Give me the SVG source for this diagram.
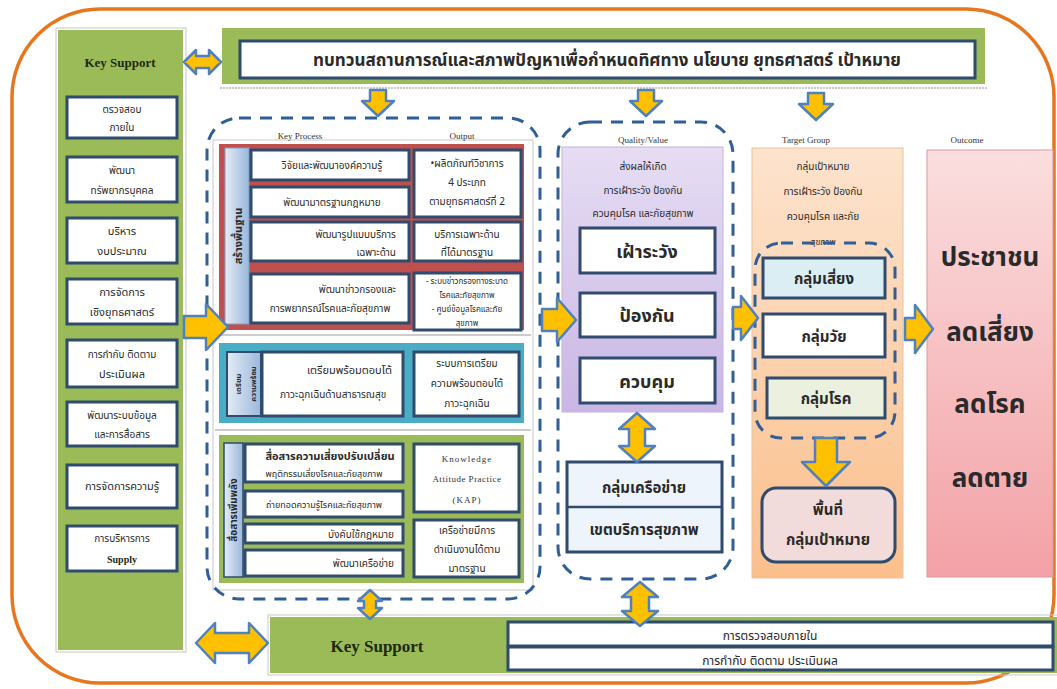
<svg xmlns="http://www.w3.org/2000/svg" width="1057" height="689" viewBox="0 0 1057 689">
  <defs>
    <linearGradient id="gPurple" x1="0" y1="0" x2="0" y2="1">
      <stop offset="0" stop-color="#e6ddf3"/>
      <stop offset="1" stop-color="#c9b6e5"/>
    </linearGradient>
    <linearGradient id="gPeach" x1="0" y1="0" x2="0" y2="1">
      <stop offset="0" stop-color="#fde3cd"/>
      <stop offset="1" stop-color="#fbbf8c"/>
    </linearGradient>
    <linearGradient id="gPink" x1="0" y1="0" x2="0" y2="1">
      <stop offset="0" stop-color="#fbdede"/>
      <stop offset="1" stop-color="#f3a1a6"/>
    </linearGradient>
    <linearGradient id="gLabel" x1="0" y1="0" x2="1" y2="0">
      <stop offset="0" stop-color="#e4ecf6"/>
      <stop offset="1" stop-color="#9bb7da"/>
    </linearGradient>
    <style>
      .th { font-family: "Noto Sans Thai", "Noto Serif Thai", "Garuda", "Loma", "Norasi", "DejaVu Sans", sans-serif; fill: #2a2a2a; text-anchor: middle; }
      .th.end { text-anchor: end; }
      .en { font-family: "Liberation Serif", serif; fill: #1e2a10; text-anchor: middle; font-weight: bold; }
      .en.plain { fill: #333333; font-weight: normal; }
      .wbox { fill: #ffffff; stroke: #2f4b6e; stroke-width: 3; }
      .arw { fill: #ffc000; stroke: #4f81bd; stroke-width: 2.5; stroke-linejoin: round; }
      .dash { fill: none; stroke: #2f5f96; stroke-width: 3; stroke-dasharray: 12 9; }
      .shadow { fill: none; stroke: #c8c8c8; stroke-width: 1; }
      .s10 { font-size: 10px; }
      .s11 { font-size: 11px; }
      .s12 { font-size: 12px; }
      .b { font-weight: bold; }
    </style>
  </defs>

  <rect width="1057" height="689" fill="#ffffff"/>

  <!-- outer frame -->
  <rect x="12" y="9" width="1042" height="674" rx="88" fill="none" stroke="#e8761e" stroke-width="3.5"/>

  <!-- left key support column -->
  <g id="key-support-left">
    <rect x="56" y="28" width="130" height="624" class="shadow"/>
    <rect x="58" y="30" width="125" height="620" fill="#9bbb59"/>
    <text x="120" y="67" class="en" font-size="13">Key Support</text>
    <rect x="67" y="97" width="110" height="41" class="wbox"/>
    <text x="122" y="113" class="th s10">ตรวจสอบ</text>
    <text x="122" y="131" class="th s10">ภายใน</text>
    <rect x="67" y="157" width="110" height="45" class="wbox"/>
    <text x="122" y="174" class="th s10">พัฒนา</text>
    <text x="122" y="194" class="th s10">ทรัพยากรบุคคล</text>
    <rect x="67" y="218" width="110" height="45" class="wbox"/>
    <text x="122" y="235" class="th s11">บริหาร</text>
    <text x="122" y="255" class="th s11">งบประมาณ</text>
    <rect x="67" y="279" width="110" height="45" class="wbox"/>
    <text x="122" y="296" class="th s11">การจัดการ</text>
    <text x="122" y="316" class="th s11">เชิงยุทธศาสตร์</text>
    <rect x="67" y="340" width="110" height="47" class="wbox"/>
    <text x="122" y="358" class="th s10">การกำกับ ติดตาม</text>
    <text x="122" y="378" class="th s11">ประเมินผล</text>
    <rect x="67" y="402" width="110" height="44" class="wbox"/>
    <text x="122" y="419" class="th s10">พัฒนาระบบข้อมูล</text>
    <text x="122" y="438" class="th s10">และการสื่อสาร</text>
    <rect x="67" y="465" width="110" height="43" class="wbox"/>
    <text x="122" y="490" class="th s11">การจัดการความรู้</text>
    <rect x="67" y="526" width="110" height="45" class="wbox"/>
    <text x="122" y="542" class="th s10">การบริหารการ</text>
    <text x="122" y="563" class="en" font-size="10" fill="#2a2a2a">Supply</text>
  </g>

  <!-- top banner -->
  <g id="review-banner">
    <line x1="220" y1="88" x2="988" y2="88" stroke="#c8c8c8" stroke-width="2" stroke-dasharray="2 1"/>
    <rect x="222" y="28" width="763" height="56" fill="#9bbb59"/>
    <rect x="240" y="41" width="735" height="37" class="wbox"/>
    <text x="607" y="66" class="th b" font-size="17">ทบทวนสถานการณ์และสภาพปัญหาเพื่อกำหนดทิศทาง นโยบาย ยุทธศาสตร์ เป้าหมาย</text>
  </g>

  <!-- key process block -->
  <g id="key-process">
    <rect x="213" y="140" width="320" height="450" class="shadow"/>
    <text x="300" y="139" class="en plain" font-size="9">Key Process</text>
    <text x="462" y="139" class="en plain" font-size="9">Output</text>

    <!-- group 1 -->
    <rect x="219" y="144" width="305" height="186" fill="#c0504d"/>
    <rect x="225" y="148" width="24" height="176" fill="url(#gLabel)" stroke="#7f9fc8" stroke-width="1"/>
    <text transform="translate(242,236) rotate(-90)" class="th s11 b">สร้างพื้นฐาน</text>
    <rect x="251" y="150" width="158" height="30" class="wbox"/>
    <text x="332" y="169" class="th s10">วิจัยและพัฒนาองค์ความรู้</text>
    <rect x="251" y="187" width="158" height="30" class="wbox"/>
    <text x="332" y="206" class="th s10">พัฒนามาตรฐานกฎหมาย</text>
    <rect x="251" y="222" width="158" height="39" class="wbox"/>
    <text x="396" y="238" class="th end s10">พัฒนารูปแบบบริการ</text>
    <text x="396" y="256" class="th end s10">เฉพาะด้าน</text>
    <rect x="251" y="274" width="158" height="49" class="wbox"/>
    <text x="396" y="293" class="th end s10">พัฒนาข่าวกรองและ</text>
    <text x="330" y="312" class="th s10">การพยากรณ์โรคและภัยสุขภาพ</text>
    <rect x="414" y="150" width="107" height="67" class="wbox"/>
    <text x="467" y="167" class="th s10">•ผลิตภัณฑ์วิชาการ</text>
    <text x="467" y="186" class="th s10">4 ประเภท</text>
    <text x="467" y="205" class="th s10">ตามยุทธศาสตร์ที่ 2</text>
    <rect x="414" y="222" width="107" height="39" class="wbox"/>
    <text x="467" y="238" class="th s10">บริการเฉพาะด้าน</text>
    <text x="467" y="256" class="th s10">ที่ได้มาตรฐาน</text>
    <rect x="414" y="273" width="107" height="57" class="wbox"/>
    <text x="467" y="284" class="th" font-size="8">- ระบบข่าวกรองทางระบาด</text>
    <text x="467" y="298" class="th" font-size="8">โรคและภัยสุขภาพ</text>
    <text x="467" y="312" class="th" font-size="8">- ศูนย์ข้อมูลโรคและภัย</text>
    <text x="467" y="326" class="th" font-size="8">สุขภาพ</text>

    <line x1="215" y1="335" x2="531" y2="335" stroke="#9a9a9a" stroke-width="1"/>

    <!-- group 2 -->
    <rect x="219" y="343" width="305" height="80" fill="#4bacc6"/>
    <rect x="227" y="352" width="34" height="64" fill="url(#gLabel)" stroke="#2f4b6e" stroke-width="2"/>
    <text transform="translate(241,384) rotate(-90)" class="th b" font-size="7.5">เตรียม</text>
    <text transform="translate(256,384) rotate(-90)" class="th b" font-size="7.5">ความพร้อม</text>
    <rect x="262" y="352" width="141" height="64" class="wbox"/>
    <text x="392" y="374" class="th end s11">เตรียมพร้อมตอบโต้</text>
    <text x="333" y="398" class="th s10">ภาวะฉุกเฉินด้านสาธารณสุข</text>
    <rect x="414" y="352" width="105" height="64" class="wbox"/>
    <text x="467" y="367" class="th s10">ระบบการเตรียม</text>
    <text x="467" y="387" class="th s10">ความพร้อมตอบโต้</text>
    <text x="467" y="407" class="th s10">ภาวะฉุกเฉิน</text>

    <line x1="215" y1="430" x2="531" y2="430" stroke="#9a9a9a" stroke-width="1"/>

    <!-- group 3 -->
    <rect x="219" y="435" width="305" height="148" fill="#9bbb59"/>
    <rect x="224" y="443" width="19" height="134" fill="url(#gLabel)" stroke="#2f4b6e" stroke-width="1.5"/>
    <text transform="translate(237,510) rotate(-90)" class="th s10 b">สื่อสารเพิ่มพลัง</text>
    <rect x="245" y="444" width="158" height="38" class="wbox"/>
    <text x="330" y="460" class="th s11 b">สื่อสารความเสี่ยงปรับเปลี่ยน</text>
    <text x="324" y="477" class="th" font-size="9">พฤติกรรมเสี่ยงโรคและภัยสุขภาพ</text>
    <rect x="245" y="491" width="158" height="26" class="wbox"/>
    <text x="324" y="508" class="th" font-size="9">ถ่ายทอดความรู้โรคและภัยสุขภาพ</text>
    <rect x="245" y="524" width="158" height="19" class="wbox"/>
    <text x="394" y="538" class="th end s10">บังคับใช้กฎหมาย</text>
    <rect x="245" y="550" width="158" height="26" class="wbox"/>
    <text x="394" y="567" class="th end s10">พัฒนาเครือข่าย</text>
    <rect x="414" y="444" width="105" height="68" class="wbox"/>
    <text x="467" y="462" class="en plain" font-size="9" letter-spacing="1">Knowledge</text>
    <text x="467" y="482" class="en plain" font-size="9" letter-spacing="0.5">Attitude Practice</text>
    <text x="467" y="503" class="en plain" font-size="9" letter-spacing="1">(KAP)</text>
    <rect x="414" y="520" width="105" height="57" class="wbox"/>
    <text x="467" y="534" class="th s10">เครือข่ายมีการ</text>
    <text x="467" y="553" class="th s10">ดำเนินงานได้ตาม</text>
    <text x="467" y="572" class="th s10">มาตรฐาน</text>

    <rect x="207" y="118" width="333" height="481" rx="32" class="dash"/>
  </g>

  <!-- quality / value -->
  <g id="quality-value">
    <text x="643" y="143" class="en plain" font-size="9">Quality/Value</text>
    <rect x="562" y="147" width="161" height="265" fill="url(#gPurple)" stroke="#c4b4dc" stroke-width="1"/>
    <text x="643" y="170" class="th s10">ส่งผลให้เกิด</text>
    <text x="643" y="194" class="th s10">การเฝ้าระวัง ป้องกัน</text>
    <text x="643" y="217" class="th s10">ควบคุมโรค และภัยสุขภาพ</text>
    <rect x="580" y="228" width="135" height="45" class="wbox"/>
    <text x="647" y="258" class="th b" font-size="18">เฝ้าระวัง</text>
    <rect x="580" y="293" width="135" height="44" class="wbox"/>
    <text x="647" y="322" class="th b" font-size="18">ป้องกัน</text>
    <rect x="580" y="358" width="135" height="45" class="wbox"/>
    <text x="647" y="388" class="th b" font-size="18">ควบคุม</text>
  </g>

  <g id="network-group">
    <rect x="567" y="462" width="155" height="90" fill="#eef4fb" stroke="#2f4b6e" stroke-width="3"/>
    <line x1="567" y1="507" x2="722" y2="507" stroke="#2f4b6e" stroke-width="2.5"/>
    <text x="644" y="493" class="th b" font-size="15">กลุ่มเครือข่าย</text>
    <text x="644" y="535" class="th b" font-size="15">เขตบริการสุขภาพ</text>
    <rect x="558" y="122" width="175" height="457" rx="32" class="dash"/>
  </g>

  <!-- target group -->
  <g id="target-group">
    <text x="806" y="143" class="en plain" font-size="9">Target Group</text>
    <rect x="752" y="148" width="151" height="430" fill="url(#gPeach)" stroke="#e9c29e" stroke-width="1"/>
    <text x="823" y="170" class="th s10">กลุ่มเป้าหมาย</text>
    <text x="823" y="195" class="th s10">การเฝ้าระวัง ป้องกัน</text>
    <text x="823" y="220" class="th s10">ควบคุมโรค และภัย</text>
    <text x="823" y="245" class="th" font-size="9">สุขภาพ</text>
    <rect x="763" y="258" width="122" height="40" fill="#dbeef4" stroke="#2f4b6e" stroke-width="3"/>
    <text x="824" y="284" class="th b" font-size="15">กลุ่มเสี่ยง</text>
    <rect x="763" y="314" width="122" height="43" class="wbox"/>
    <text x="824" y="342" class="th b" font-size="15">กลุ่มวัย</text>
    <rect x="767" y="378" width="118" height="40" fill="#ebf1de" stroke="#2f4b6e" stroke-width="3"/>
    <text x="826" y="404" class="th b" font-size="15">กลุ่มโรค</text>
    <rect x="755" y="243" width="140" height="195" rx="26" class="dash"/>
  </g>

  <g id="target-area">
    <rect x="762" y="488" width="133" height="74" rx="14" fill="#f2dcdb" stroke="#2f4b6e" stroke-width="3"/>
    <text x="828" y="515" class="th b" font-size="15">พื้นที่</text>
    <text x="828" y="545" class="th b" font-size="15">กลุ่มเป้าหมาย</text>
  </g>

  <!-- outcome -->
  <g id="outcome">
    <text x="967" y="143" class="en plain" font-size="9">Outcome</text>
    <rect x="927" y="150" width="126" height="427" fill="url(#gPink)" stroke="#d99aa0" stroke-width="1"/>
    <text x="990" y="266" class="th b" font-size="26" fill="#1a1a1a">ประชาชน</text>
    <text x="990" y="341" class="th b" font-size="26" fill="#1a1a1a">ลดเสี่ยง</text>
    <text x="990" y="413" class="th b" font-size="26" fill="#1a1a1a">ลดโรค</text>
    <text x="990" y="487" class="th b" font-size="26" fill="#1a1a1a">ลดตาย</text>
  </g>

  <!-- bottom key support -->
  <g id="key-support-bottom">
    <rect x="268" y="615" width="792" height="60" class="shadow"/>
    <rect x="270" y="617" width="790" height="56" fill="#9bbb59"/>
    <text x="377" y="652" class="en" font-size="17">Key Support</text>
    <rect x="508" y="622" width="545" height="24" class="wbox"/>
    <text x="770" y="640" class="th s12">การตรวจสอบภายใน</text>
    <rect x="508" y="647" width="545" height="23" class="wbox"/>
    <text x="770" y="665" class="th s12">การกำกับ ติดตาม ประเมินผล</text>
  </g>

  <!-- connectors -->
  <g id="connectors">
    <!-- horizontal double arrow: left column to banner -->
    <path class="arw" d="M184,62 L196,50 L196,56 L209,56 L209,50 L221,62 L209,74 L209,68 L196,68 L196,74 Z"/>
    <!-- down arrows from banner -->
    <path class="arw" d="M370,90 L386,90 L386,101 L394,101 L378,116 L362,101 L370,101 Z"/>
    <path class="arw" d="M638,90 L654,90 L654,101 L662,101 L646,116 L630,101 L638,101 Z"/>
    <path class="arw" d="M808,93 L824,93 L824,104 L833,104 L816,120 L799,104 L808,104 Z"/>
    <!-- left column into key process -->
    <path class="arw" d="M184,316 L206,316 L206,304 L228,327 L206,350 L206,338 L184,338 Z"/>
    <!-- key process to quality -->
    <path class="arw" d="M542,309 L557,309 L557,298 L576,320 L557,342 L557,331 L542,331 Z"/>
    <!-- quality to target -->
    <path class="arw" d="M733,307 L741,307 L741,296 L758,318 L741,340 L741,329 L733,329 Z"/>
    <!-- target to outcome -->
    <path class="arw" d="M905,318 L915,318 L915,305 L933,329 L915,353 L915,340 L905,340 Z"/>
    <!-- quality to network -->
    <path class="arw" d="M637,413 L655,429 L645,429 L645,446 L655,446 L637,462 L619,446 L629,446 L629,429 L619,429 Z"/>
    <!-- target groups to area -->
    <path class="arw" d="M815,438 L837,438 L837,462 L850,462 L826,486 L802,462 L815,462 Z"/>
    <!-- key process to bottom support -->
    <path class="arw" d="M370,590 L382,601 L376,601 L376,608 L382,608 L370,619 L358,608 L364,608 L364,601 L358,601 Z"/>
    <!-- network to bottom support -->
    <path class="arw" d="M640,582 L658,597 L649,597 L649,611 L658,611 L640,626 L622,611 L631,611 L631,597 L622,597 Z"/>
    <!-- bottom support to left column -->
    <path class="arw" d="M196,643 L215,623 L215,633 L249,633 L249,623 L268,643 L249,663 L249,653 L215,653 L215,663 Z"/>
  </g>
</svg>
